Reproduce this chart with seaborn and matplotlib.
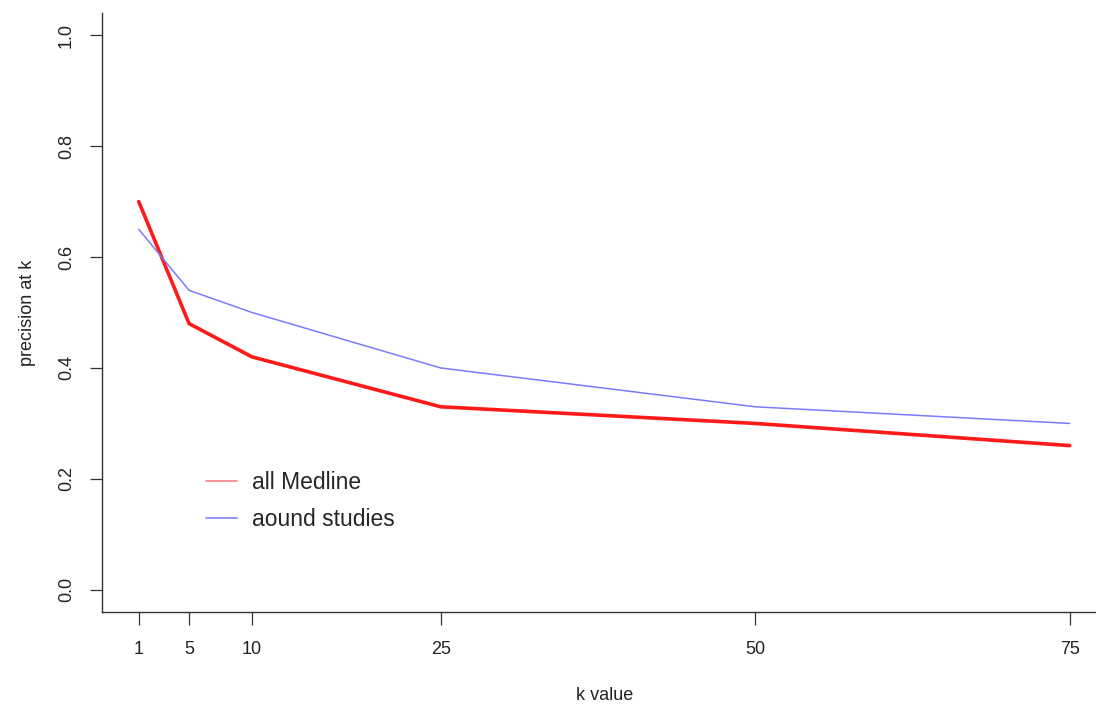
import matplotlib
matplotlib.use("Agg")
import matplotlib.pyplot as plt
import seaborn as sns
import pandas as pd
from matplotlib.lines import Line2D

k_values = [1, 5, 10, 25, 50, 75]
all_medline = [0.70, 0.48, 0.42, 0.33, 0.30, 0.26]
found_studies = [0.65, 0.54, 0.50, 0.40, 0.33, 0.30]
series_labels = ["all Medline", "aound studies"]
y_ticks = [0.0, 0.2, 0.4, 0.6, 0.8, 1.0]

sns.set_style("white")
plt.rcParams['font.family'] = ['Liberation Sans', 'DejaVu Sans']

W, H = 1096, 709
fig = plt.figure(figsize=(W / 100, H / 100), dpi=100)
left, right, top, bottom = 101.5, 1107, 13, 612
ax = fig.add_axes([left / W, (H - bottom) / H, (right - left) / W, (bottom - top) / H])

df = pd.DataFrame({"k": k_values, "all": all_medline, "found": found_studies})
sns.lineplot(data=df, x="k", y="all", ax=ax, color="#ff1a1a", linewidth=2.6)
sns.lineplot(data=df, x="k", y="found", ax=ax, color="#7b7bff", linewidth=1.1)

ax.set_xlim(1 - 0.04 * 74, 75 + 0.04 * 74)
ax.set_ylim(-0.04, 1.04)
ax.set_xticks(k_values)
ax.set_xticklabels([str(k) for k in k_values])
ax.set_yticks(y_ticks)
ax.set_yticklabels([f"{v:.1f}" for v in y_ticks], rotation=90, va="center")

for s in ["top", "right"]:
    ax.spines[s].set_visible(False)
for s in ["left", "bottom"]:
    ax.spines[s].set_color("#333333")
    ax.spines[s].set_linewidth(1.0)

ax.tick_params(axis="both", which="major", direction="out", length=9, width=0.9,
               color="#333333", labelsize=13, labelcolor="#222222", pad=12,
               left=True, bottom=True)
ax.tick_params(axis="y", pad=10)

ax.set_xlabel("k value", fontsize=13, color="#222222", labelpad=21)
ax.set_ylabel("precision at k", fontsize=13, color="#222222", labelpad=16)

handles = [Line2D([], [], color="#ff8080", linewidth=1.2),
           Line2D([], [], color="#8080ff", linewidth=1.2)]
fig.legend(handles, series_labels, loc="center left",
           bbox_to_anchor=(206 / W, 1 - 501 / H), bbox_transform=fig.transFigure,
           frameon=False, fontsize=16.5, handlelength=1.35, handletextpad=0.65,
           labelspacing=0.6, borderpad=0, borderaxespad=0)

fig.savefig("out.png", dpi=100)
